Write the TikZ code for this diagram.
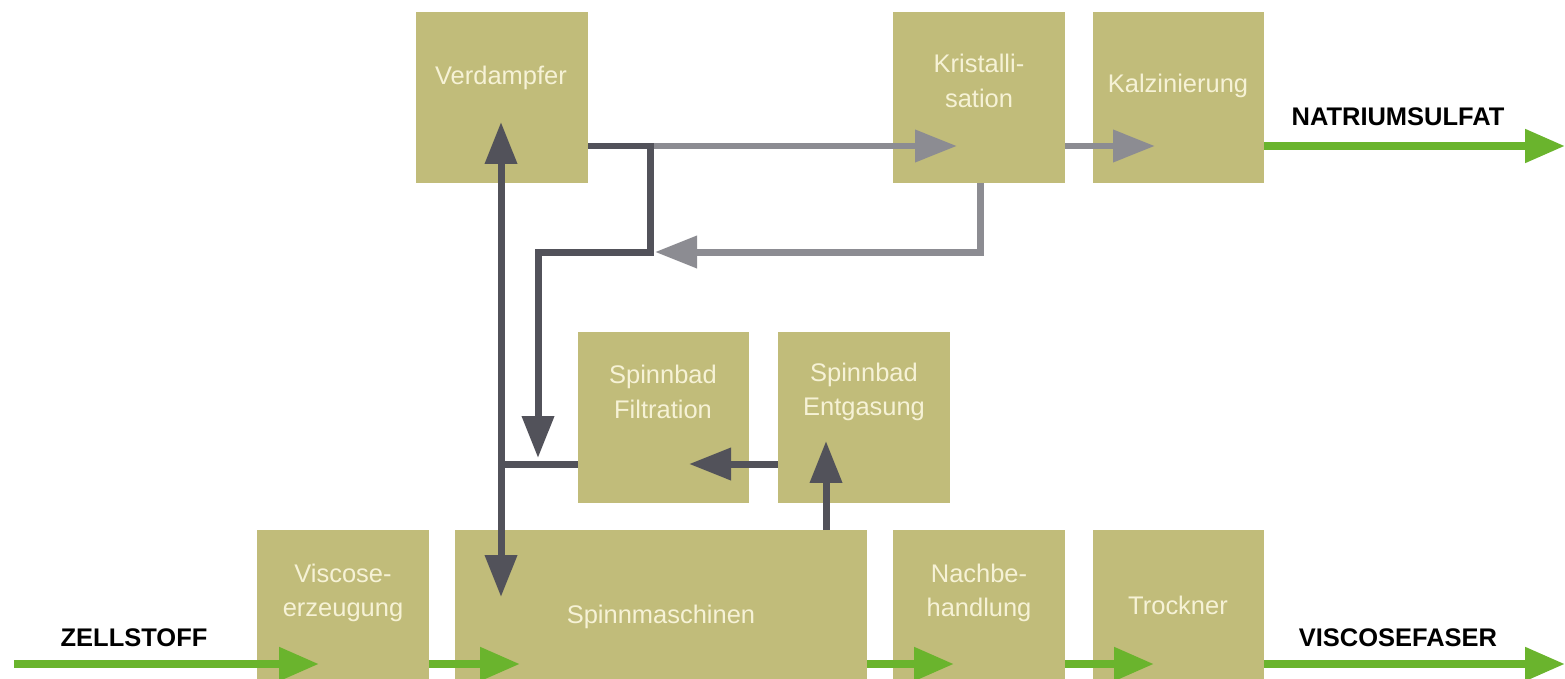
\documentclass[tikz,border=0pt]{standalone}
\usepackage{fontspec}
\setmainfont{Liberation Sans}
\usetikzlibrary{arrows.meta,fit}
\definecolor{boxc}{RGB}{193,188,122}
\definecolor{txtc}{RGB}{246,242,214}
\definecolor{grn}{RGB}{106,180,45}
\definecolor{dkg}{RGB}{82,82,90}
\definecolor{ltg}{RGB}{140,140,146}
\begin{document}
\begin{tikzpicture}[x=0.02cm,y=-0.02cm,
 box/.style={fill=boxc,draw=none,inner sep=0pt,outer sep=0pt},
 lbl/.style={text=txtc,font=\fontsize{14.5}{19.5}\selectfont,align=center,inner sep=0pt},
 flow/.style={text=black,font=\bfseries\fontsize{14.5}{17}\selectfont,inner sep=0pt},
 dk/.style={draw=dkg,line width=0.14cm,line join=miter},
 lt/.style={draw=ltg,line width=0.14cm,line join=miter},
 gr/.style={draw=grn,line width=0.16cm},
 tip/.style={-{Triangle[length=0.84cm,width=0.62cm]}},
 dtip/.style={{Triangle[length=0.84cm,width=0.62cm]}-{Triangle[length=0.84cm,width=0.62cm]}},
 gtip/.style={-{Triangle[length=0.8cm,width=0.64cm]}},
]
\useasboundingbox (0,0) rectangle (1565,679);
% boxes
\node[box,fit={(416,12) (588,183)}] (verd) {};
\node[box,fit={(893,12) (1065,183)}] (kris) {};
\node[box,fit={(1093,12) (1264,183)}] (kalz) {};
\node[box,fit={(578,332) (749,503)}] (filt) {};
\node[box,fit={(778,332) (950,503)}] (entg) {};
\node[box,fit={(257,530) (429,679)}] (visc) {};
\node[box,fit={(455,530) (867,679)}] (spin) {};
\node[box,fit={(893,530) (1065,679)}] (nach) {};
\node[box,fit={(1093,530) (1264,679)}] (trock) {};
% box texts
\node[lbl] (tverd) at (501,78) {Verdampfer};
\node[lbl] (tkris) at (979,81) {Kristalli-\\sation};
\node[lbl] (tkalz) at (1178,86) {Kalzinierung};
\node[lbl] (tfilt) at (663,392) {Spinnbad\\Filtration};
\node[lbl] (tentg) at (864,392) {Spinnbad\\Entgasung};
\node[lbl] (tvisc) at (343,593) {Viscose-\\erzeugung};
\node[lbl] (tspin) at (661,617) {Spinnmaschinen};
\node[lbl] (tnach) at (979,593) {Nachbe-\\handlung};
\node[lbl] (ttrock) at (1178,605) {Trockner};
% flow labels
\node[flow] (zell) at (134,638) {ZELLSTOFF};
\node[flow] (vfaser) at (1398,638) {VISCOSEFASER};
\node[flow] (natr) at (1398,117) {NATRIUMSULFAT};
% helper coordinates
\coordinate (ja) at (650,146);
\coordinate (jb) at (650,252);
\coordinate (jc) at (538,252);
\coordinate (jd) at (538,458);
\coordinate (je) at (501,464);
\coordinate (kt) at (957,146);
\coordinate (kzt) at (1155,146);
\coordinate (kb) at (980,252);
\coordinate (kr) at (655,252);
\coordinate (vu) at (501,122);
\coordinate (vd) at (501,597);
\coordinate (ft) at (689,464);
\coordinate (et) at (826,441);
\coordinate (gs) at (14,664);
\coordinate (g1) at (319,664);
\coordinate (g2) at (520,664);
\coordinate (g3) at (954,664);
\coordinate (g4) at (1154,664);
\coordinate (g5) at (1565,664);
\coordinate (gt) at (1565,146);
% light grey connectors
\draw[lt,tip] (ja) -- (kt);
\draw[lt,tip] (kris.east |- kt) -- (kzt);
\draw[lt,tip] (kris.south -| kb) -- (kb) -- (kr);
% dark grey connectors
\draw[dk,tip] (verd.east |- ja) -- (ja) -- (jb) -- (jc) -- (jd);
\draw[dk,dtip] (vu) -- (vd);
\draw[dk] (filt.west |- je) -- ([xshift=-0.07cm]je);
\draw[dk,tip] (entg.west |- ft) -- (ft);
\draw[dk,tip] (spin.north -| et) -- (et);
% green connectors
\draw[gr,gtip] (gs) -- (g1);
\draw[gr,gtip] (visc.east |- g2) -- (g2);
\draw[gr,gtip] (spin.east |- g3) -- (g3);
\draw[gr,gtip] (nach.east |- g4) -- (g4);
\draw[gr,gtip] (trock.east |- g5) -- (g5);
\draw[gr,gtip] (kalz.east |- gt) -- (gt);
\end{tikzpicture}
\end{document}
